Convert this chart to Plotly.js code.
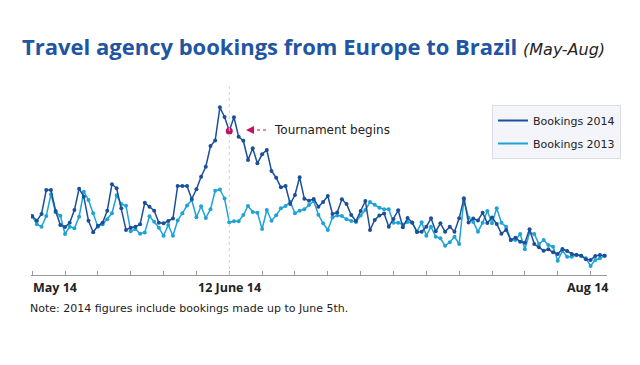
<!DOCTYPE html>
<html>
<head>
<meta charset="utf-8">
<script src="https://cdn.plot.ly/plotly-3.0.1.min.js"></script>
<style>html,body{margin:0;padding:0;background:#fff;}#chart{width:640px;height:365px;}</style>
</head>
<body>
<div id="chart"></div>
<script>
// Daily bookings index, 1 May to 31 Aug (arbitrary units)
const startDate = '2014-05-01';
const bookings2014 = [64,59.3,66,90,90,69,55,53,57.3,70,91.3,83.3,59.3,47.7,54.3,57.3,69.3,95.7,91.7,71.7,
50,52.3,53.3,55.7,77.3,73.3,69.3,57.3,56.7,59,61.5,94,94,94,81,90.7,103.3,113.3,134,139.5,
172.7,163,149,162.7,143.3,139.3,120,131.7,116.7,125.7,130,109,102.3,92.7,94,76,85,102.7,81.3,79.3,
81,73.3,78,84,66,67.5,80.7,76,65,59,69,79,50,60,64.5,66.5,53.3,61,69.7,52.7,
62,57.5,48,48.3,53.3,61.7,48.7,56.7,48.3,53.3,48.3,61.7,81.7,57.5,61.5,59.5,67.3,57,62.5,56,
46.3,50,40,42.3,38.3,37.3,50.7,36,32.7,29.3,30.7,27.7,26,31,29,26,25,24.3,20.7,20,
24,25,24.3];
const bookings2013 = [63.3,55.7,53.3,64,85.7,67.7,64.3,46,53.3,51.7,63.3,88.3,80,66.7,53.3,55.7,60.7,66.7,84.7,76,
74.3,48.7,51,46.3,47.5,63.7,58.3,52.3,44.2,55,44.2,59.5,66.7,74.5,80,62.7,73.7,62,70.8,89.3,
90.5,81.5,57.7,58.7,58.7,65,74,68,67.3,51,70,59.3,64.7,71.7,74,78,66.7,69.3,70.7,75,
79,65.3,56.7,50,62.5,64.5,64,60.7,59,58,64.5,70,78,75.3,72.3,70.7,70.7,57.3,57.3,55.5,
58,57,48.3,57.7,44.3,53.3,43.3,41.7,34.3,37.7,43.3,36,80,62.3,58,48.3,57.3,69,56.7,71.7,
57.3,53.3,40,40,46,30.7,47.3,46,36,40,35,33.3,19.3,29.3,23.3,23.3,25.3,24.3,21.7,14,
20,21.7,24.3];
const seriesNames = ['Bookings 2014', 'Bookings 2013'];
const tickLabels = ['May 14', '12 June 14', 'Aug 14'];
const eventDate = '2014-06-12';
const eventLabel = 'Tournament begins';

const dark = '#1b4f98', light = '#1fa2d6', accent = '#c0135f';

function addDays(s, n) {
  const d = new Date(s + 'T00:00:00Z');
  d.setUTCDate(d.getUTCDate() + n);
  return d.toISOString().slice(0, 10);
}
const dates = bookings2014.map((_, i) => addDays(startDate, i));
const eventIdx = dates.indexOf(eventDate);

const traces = [
  {x: dates, y: bookings2013, mode: 'lines+markers', line: {color: light, width: 1.5},
   marker: {color: light, size: 4}, showlegend: false, hoverinfo: 'skip'},
  {x: dates, y: bookings2014, mode: 'lines+markers', line: {color: dark, width: 1.5},
   marker: {color: dark, size: 4}, showlegend: false, hoverinfo: 'skip'},
  {x: [dates[eventIdx]], y: [bookings2014[eventIdx]], mode: 'markers',
   marker: {color: accent, size: 7, symbol: 'circle', line: {color: accent, width: 0}}, showlegend: false, hoverinfo: 'skip'},
  {x: [null], y: [null], mode: 'lines', name: seriesNames[0], legendgroup: 'a', line: {color: dark, width: 2}},
  {x: [null], y: [null], mode: 'lines', name: seriesNames[1], legendgroup: 'b', line: {color: light, width: 2}}
];

const W = 576; // plot width px
function px(p) { return (p - 31) / W; }
function py(p) { return (275 - p) / 195; }

const layout = {
  width: 640, height: 365,
  margin: {l: 31, r: 33, t: 80, b: 90},
  paper_bgcolor: '#fff', plot_bgcolor: '#fff',
  title: {
    text: '<b>Travel agency bookings from Europe to Brazil</b> <span style="color:#222;font-size:16px;font-family:DejaVu Sans"><i>(May-Aug)</i></span>',
    font: {family: '"Open Sans", sans-serif', size: 22, color: '#1f55a3'},
    x: 22 / 640, xanchor: 'left', xref: 'container',
    y: 1 - 47 / 365, yanchor: 'middle', yref: 'container'
  },
  xaxis: {
    type: 'date', range: ['2014-04-30 18:00', '2014-08-31 12:00'],
    showgrid: false, zeroline: false, showline: true, linecolor: '#999', linewidth: 1,
    ticks: 'inside', ticklen: 4, tickcolor: '#999', tickwidth: 1,
    tick0: '2014-05-01', dtick: 7 * 86400000, showticklabels: false, fixedrange: true
  },
  yaxis: {range: [5, 200], visible: false, fixedrange: true},
  legend: {
    x: px(492), y: py(105), xanchor: 'left', yanchor: 'top',
    bgcolor: '#f4f5fa', bordercolor: '#dcdde3', borderwidth: 1,
    font: {family: '"DejaVu Sans", Verdana, sans-serif', size: 11, color: '#222'},
    tracegroupgap: 4, itemwidth: 30
  },
  shapes: [
    {type: 'line', xref: 'x', yref: 'paper', x0: eventDate, x1: eventDate, y0: 0, y1: py(85),
     line: {color: '#cfcfcf', width: 1, dash: 'dot'}},
    {type: 'line', xref: 'paper', yref: 'paper', x0: px(251), x1: px(268), y0: py(130), y1: py(130),
     line: {color: accent, width: 1, dash: 'dot'}}
  ],
  annotations: [
    {xref: 'paper', yref: 'paper', x: px(246), y: py(130), ax: 6, ay: 0, text: '',
     showarrow: true, arrowhead: 2, arrowsize: 1.6, arrowwidth: 1, arrowcolor: accent},
    {xref: 'paper', yref: 'paper', x: px(272), y: py(130), xanchor: 'left', yanchor: 'middle',
     text: eventLabel, showarrow: false,
     font: {family: '"DejaVu Sans", Verdana, sans-serif', size: 12, color: '#222'}},
    {xref: 'paper', yref: 'paper', x: px(31), y: py(277), xanchor: 'left', yanchor: 'top',
     text: '<b>' + tickLabels[0] + '</b>', showarrow: false,
     font: {family: '"Open Sans", sans-serif', size: 12.5, color: '#222'}},
    {xref: 'x', yref: 'paper', x: eventDate, y: py(277), xanchor: 'center', yanchor: 'top',
     text: '<b>' + tickLabels[1] + '</b>', showarrow: false,
     font: {family: '"Open Sans", sans-serif', size: 12.5, color: '#222'}},
    {xref: 'paper', yref: 'paper', x: px(610), y: py(277), xanchor: 'right', yanchor: 'top',
     text: '<b>' + tickLabels[2] + '</b>', showarrow: false,
     font: {family: '"Open Sans", sans-serif', size: 12.5, color: '#222'}},
    {xref: 'paper', yref: 'paper', x: px(28), y: py(300), xanchor: 'left', yanchor: 'top',
     text: 'Note: 2014 figures include bookings made up to June 5th.', showarrow: false,
     font: {family: '"DejaVu Sans", Verdana, sans-serif', size: 11, color: '#222'}}
  ]
};

Plotly.newPlot('chart', traces, layout, {displayModeBar: false, staticPlot: true});
</script>
</body>
</html>
